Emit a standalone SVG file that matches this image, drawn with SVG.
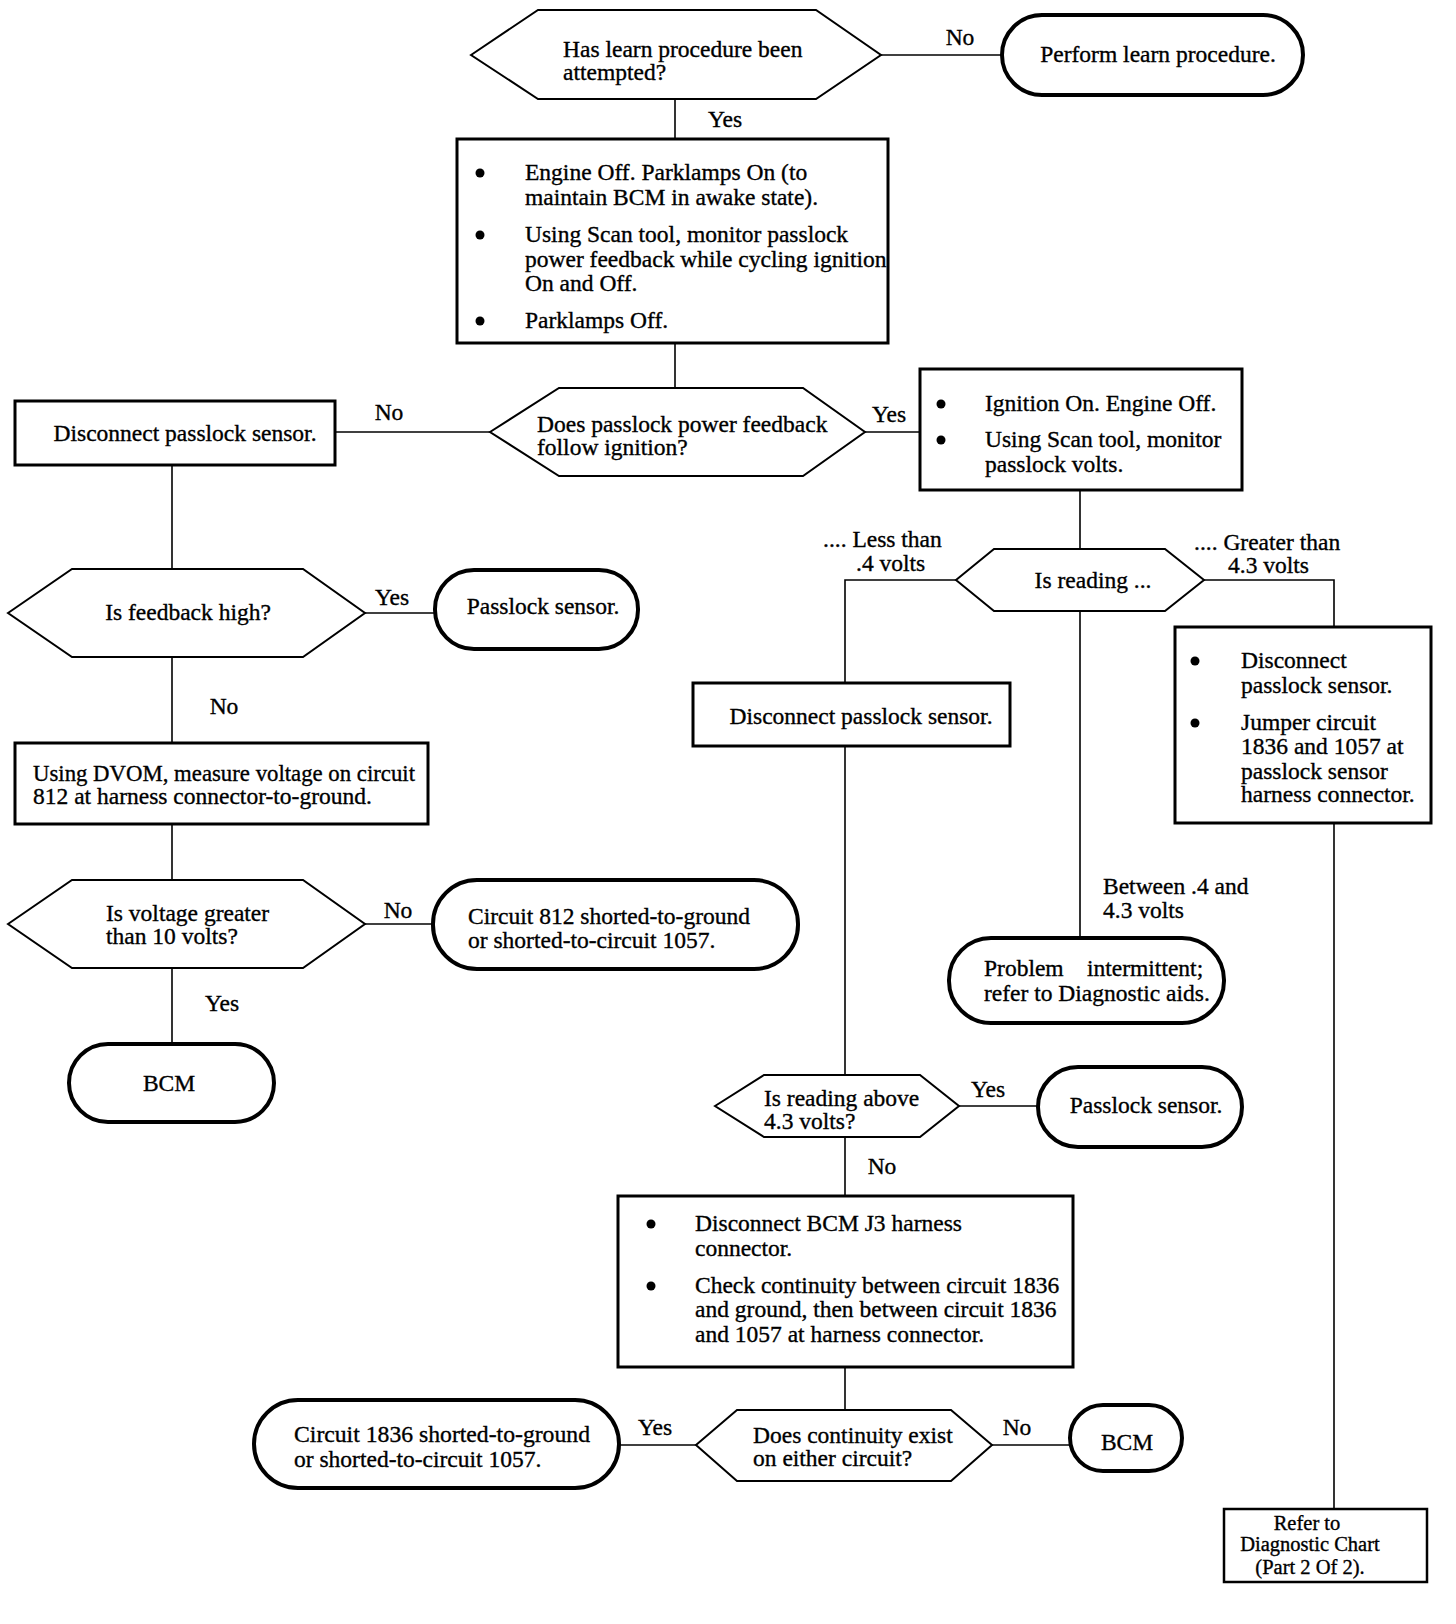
<svg xmlns="http://www.w3.org/2000/svg" width="1456" height="1624" viewBox="0 0 1456 1624">
<style>
text{font-family:"Liberation Serif","Times New Roman",serif;font-size:23.5px;fill:#000;stroke:#000;stroke-width:0.35}
.c{text-anchor:middle}
.sm{font-size:20.5px}
.box{fill:#fff;stroke:#000;stroke-width:3}
.pill{fill:#fff;stroke:#000;stroke-width:4}
.hex{fill:#fff;stroke:#000;stroke-width:2}
.ref{fill:#fff;stroke:#000;stroke-width:2.5}
.ln{fill:none;stroke:#000;stroke-width:1.6}
.dot{fill:#000}
</style>
<rect width="1456" height="1624" fill="#fff"/>
<g id="connectors">
<path class="ln" d="M881 55H1002"/>
<path class="ln" d="M675 99V139"/>
<path class="ln" d="M675 343V388"/>
<path class="ln" d="M490 432H335"/>
<path class="ln" d="M865 432H920"/>
<path class="ln" d="M1080 490V549"/>
<path class="ln" d="M956 580H845V683"/>
<path class="ln" d="M845 746V1075"/>
<path class="ln" d="M1080 611V937"/>
<path class="ln" d="M1204 580H1334V627"/>
<path class="ln" d="M1334 823V1509"/>
<path class="ln" d="M172 465V569"/>
<path class="ln" d="M365 613H435"/>
<path class="ln" d="M172 657V743"/>
<path class="ln" d="M172 824V880"/>
<path class="ln" d="M365 924H433"/>
<path class="ln" d="M172 968V1044"/>
<path class="ln" d="M959 1106H1038"/>
<path class="ln" d="M845 1137V1196"/>
<path class="ln" d="M845 1367V1410"/>
<path class="ln" d="M696 1445H619"/>
<path class="ln" d="M992 1445H1070"/>
<text x="960" y="45" class="c">No</text>
<text x="725" y="127" class="c">Yes</text>
<text x="389" y="420" class="c">No</text>
<text x="889" y="422" class="c">Yes</text>
<text x="823" y="547">.... Less than</text>
<text x="856" y="571">.4 volts</text>
<text x="1194" y="550">.... Greater than</text>
<text x="1228" y="573">4.3 volts</text>
<text x="1103" y="894">Between .4 and</text>
<text x="1103" y="918">4.3 volts</text>
<text x="392" y="605" class="c">Yes</text>
<text x="224" y="714" class="c">No</text>
<text x="398" y="918" class="c">No</text>
<text x="222" y="1011" class="c">Yes</text>
<text x="988" y="1097" class="c">Yes</text>
<text x="882" y="1174" class="c">No</text>
<text x="655" y="1435" class="c">Yes</text>
<text x="1017" y="1435" class="c">No</text>
</g>
<g id="q-learn">
<polygon class="hex" points="471,55 538,10 816,10 881,55 816,99 538,99"/>
<text x="563" y="57">Has learn procedure been</text>
<text x="563" y="80">attempted?</text>
</g>
<g id="perform-learn">
<rect class="pill" x="1002" y="15" width="301" height="80" rx="40"/>
<text x="1158" y="62" class="c">Perform learn procedure.</text>
</g>
<g id="step-parklamps">
<rect class="box" x="457" y="139" width="431" height="204"/>
<circle class="dot" cx="480" cy="173" r="4.5"/>
<circle class="dot" cx="480" cy="235" r="4.5"/>
<circle class="dot" cx="480" cy="321" r="4.5"/>
<text x="525" y="180">Engine Off. Parklamps On (to</text>
<text x="525" y="205">maintain BCM in awake state).</text>
<text x="525" y="242">Using Scan tool, monitor passlock</text>
<text x="525" y="267">power feedback while cycling ignition</text>
<text x="525" y="291">On and Off.</text>
<text x="525" y="328">Parklamps Off.</text>
</g>
<g id="q-follow">
<polygon class="hex" points="490,432 559,388 803,388 865,432 803,476 559,476"/>
<text x="537" y="432">Does passlock power feedback</text>
<text x="537" y="455">follow ignition?</text>
</g>
<g id="disc-left">
<rect class="box" x="15" y="401" width="320" height="64"/>
<text x="185" y="441" class="c">Disconnect passlock sensor.</text>
</g>
<g id="step-ignition">
<rect class="box" x="920" y="369" width="322" height="121"/>
<circle class="dot" cx="941" cy="404" r="4.5"/>
<circle class="dot" cx="941" cy="440" r="4.5"/>
<text x="985" y="411">Ignition On. Engine Off.</text>
<text x="985" y="447">Using Scan tool, monitor</text>
<text x="985" y="472">passlock volts.</text>
</g>
<g id="q-reading">
<polygon class="hex" points="956,580 994,549 1165,549 1204,580 1165,611 994,611"/>
<text x="1093" y="588" class="c">Is reading ...</text>
</g>
<g id="disc-mid">
<rect class="box" x="693" y="683" width="317" height="63"/>
<text x="861" y="724" class="c">Disconnect passlock sensor.</text>
</g>
<g id="intermittent">
<rect class="pill" x="949" y="938" width="275" height="85" rx="42"/>
<text x="984" y="976">Problem<tspan x="1087">intermittent;</tspan></text>
<text x="984" y="1001">refer to Diagnostic aids.</text>
</g>
<g id="jumper">
<rect class="box" x="1175" y="627" width="256" height="196"/>
<circle class="dot" cx="1195" cy="661" r="4.5"/>
<circle class="dot" cx="1195" cy="723" r="4.5"/>
<text x="1241" y="668">Disconnect</text>
<text x="1241" y="693">passlock sensor.</text>
<text x="1241" y="730">Jumper circuit</text>
<text x="1241" y="754">1836 and 1057 at</text>
<text x="1241" y="779">passlock sensor</text>
<text x="1241" y="802">harness connector.</text>
</g>
<g id="refer-part2">
<rect class="ref" x="1224" y="1509" width="203" height="73"/>
<text x="1307" y="1530" class="c sm">Refer to</text>
<text x="1310" y="1551" class="c sm">Diagnostic Chart</text>
<text x="1310" y="1574" class="c sm">(Part 2 Of 2).</text>
</g>
<g id="q-feedback-high">
<polygon class="hex" points="8,613 72,569 303,569 365,613 303,657 72,657"/>
<text x="188" y="620" class="c">Is feedback high?</text>
</g>
<g id="passlock-left">
<rect class="pill" x="435" y="570" width="203" height="79" rx="39"/>
<text x="543" y="614" class="c">Passlock sensor.</text>
</g>
<g id="dvom">
<rect class="box" x="15" y="743" width="413" height="81"/>
<text x="33" y="781" textLength="382" lengthAdjust="spacingAndGlyphs">Using DVOM, measure voltage on circuit</text>
<text x="33" y="804">812 at harness connector-to-ground.</text>
</g>
<g id="q-voltage">
<polygon class="hex" points="8,924 72,880 303,880 365,924 303,968 72,968"/>
<text x="106" y="921">Is voltage greater</text>
<text x="106" y="944">than 10 volts?</text>
</g>
<g id="c812">
<rect class="pill" x="433" y="880" width="365" height="89" rx="44"/>
<text x="468" y="924">Circuit 812 shorted-to-ground</text>
<text x="468" y="948">or shorted-to-circuit 1057.</text>
</g>
<g id="bcm-left">
<rect class="pill" x="69" y="1044" width="205" height="78" rx="39"/>
<text x="169" y="1091" class="c">BCM</text>
</g>
<g id="q-above">
<polygon class="hex" points="715,1106 764,1075 920,1075 959,1106 920,1137 764,1137"/>
<text x="764" y="1106">Is reading above</text>
<text x="764" y="1129">4.3 volts?</text>
</g>
<g id="passlock-right">
<rect class="pill" x="1038" y="1067" width="204" height="80" rx="40"/>
<text x="1146" y="1113" class="c">Passlock sensor.</text>
</g>
<g id="step-j3">
<rect class="box" x="618" y="1196" width="455" height="171"/>
<circle class="dot" cx="651" cy="1224" r="4.5"/>
<circle class="dot" cx="651" cy="1286" r="4.5"/>
<text x="695" y="1231">Disconnect BCM J3 harness</text>
<text x="695" y="1256">connector.</text>
<text x="695" y="1293">Check continuity between circuit 1836</text>
<text x="695" y="1317">and ground, then between circuit 1836</text>
<text x="695" y="1342">and 1057 at harness connector.</text>
</g>
<g id="q-continuity">
<polygon class="hex" points="696,1445 737,1410 951,1410 992,1445 951,1481 737,1481"/>
<text x="753" y="1443">Does continuity exist</text>
<text x="753" y="1466">on either circuit?</text>
</g>
<g id="c1836">
<rect class="pill" x="254" y="1400" width="365" height="88" rx="44"/>
<text x="294" y="1442" textLength="296" lengthAdjust="spacingAndGlyphs">Circuit 1836 shorted-to-ground</text>
<text x="294" y="1467">or shorted-to-circuit 1057.</text>
</g>
<g id="bcm-right">
<rect class="pill" x="1070" y="1405" width="112" height="66" rx="33"/>
<text x="1127" y="1450" class="c">BCM</text>
</g>
</svg>
